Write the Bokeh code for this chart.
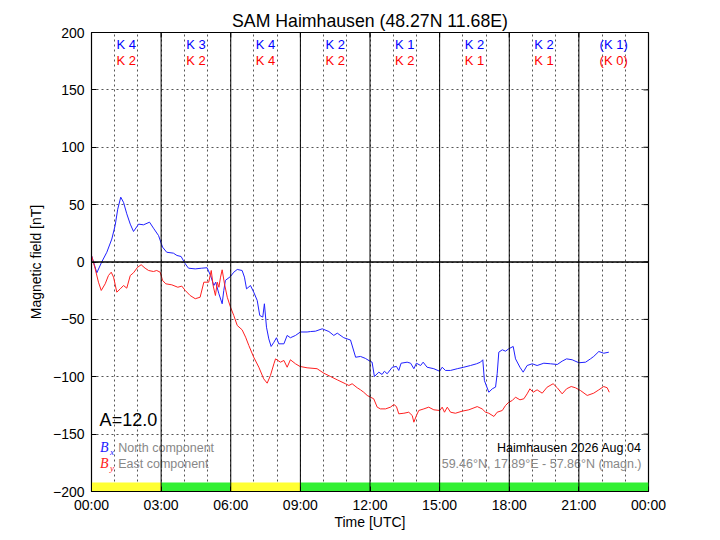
from bokeh.plotting import figure
from bokeh.models import Range1d, FixedTicker, Span
from bokeh.core.properties import value
from bokeh.embed import file_html
from bokeh.resources import INLINE

# ---- data ----
bx_t = [0.0, 0.23, 0.44, 0.66, 0.875, 1.02, 1.13, 1.26, 1.38, 1.52, 1.67, 1.81, 2.03, 2.24, 2.5, 2.67,
        2.89, 3.06, 3.24, 3.53, 3.68, 3.86, 4.04, 4.18, 4.47, 4.75, 4.98, 5.13, 5.27, 5.35, 5.49, 5.63,
        5.7, 5.77, 5.99, 6.13, 6.28, 6.49, 6.59, 6.68, 6.85, 6.99, 7.14, 7.25, 7.38, 7.45, 7.54, 7.64,
        7.74, 7.86, 7.97, 8.07, 8.29, 8.43, 8.57, 8.79, 9.0, 9.29, 9.44, 9.65, 9.94, 10.23, 10.44, 10.59,
        10.87, 11.16, 11.38, 11.59, 11.8, 12.02, 12.09, 12.19, 12.38, 12.52, 12.62, 12.74, 12.96, 13.14,
        13.24, 13.34, 13.6, 13.75, 13.89, 14.0, 14.18, 14.29, 14.46, 14.75, 15.0, 15.11, 15.25, 15.47,
        15.76, 16.04, 16.33, 16.59, 16.76, 16.86, 16.93, 17.12, 17.27, 17.41, 17.48, 17.55, 17.7, 17.84,
        17.98, 18.17, 18.27, 18.46, 18.6, 18.77, 18.99, 19.2, 19.49, 19.78, 20.07, 20.28, 20.47, 20.71,
        21.0, 21.29, 21.5, 21.64, 21.86, 22.07, 22.29]
bx_v = [5.7, -9.4, 0, 8.5, 20, 32, 46, 56.5, 52, 42, 33, 26.6, 33, 32.4, 34.7, 29.5,
        23, 13, 8.5, 7.7, 5.7, 4.8, -1.6, -5.4, -6, -5.4, -5, -11.8, -20.5, -17.6, -27.7, -36.4,
        -24.8, -16, -12.6, -8.9, -6.5, -7.4, -13.2, -23.4, -20.5, -26.3, -33.5, -46.6, -48, -36.4, -56.8, -67,
        -73.6, -69.9, -66, -71.3, -71.3, -64, -66, -64, -61, -61, -60.6, -60.3, -58.2, -60.6, -64, -62,
        -66, -68, -83, -82.3, -84, -86.7, -87.3, -99.8, -96, -98, -95.2, -97.4, -91.7, -91,
        -94.5, -88.2, -87.3, -88.2, -93, -88.2, -90.2, -87.3, -91.7, -93, -95.2, -91.7, -94.5, -94.5,
        -93, -91.7, -90.2, -88.7, -87.3, -85.2, -103.3, -113.5, -110.5, -109, -97.4, -78.6, -76.5, -77.7,
        -75.6, -73.6, -84.4, -91.7, -96, -90.2, -88.7, -90.2, -88.2, -88.7, -89.3, -86.4, -84.4, -85.2,
        -87.8, -87.3, -84.4, -82.3, -78, -79.5, -78.6]

by_t = [0.0, 0.16, 0.3, 0.42, 0.59, 0.73, 0.85, 0.95, 1.09, 1.24, 1.38, 1.52, 1.67, 1.81, 1.99, 2.14,
        2.31, 2.46, 2.67, 2.81, 2.96, 3.06, 3.2, 3.46, 3.72, 3.89, 4.04, 4.25, 4.47, 4.68, 4.84, 5.05,
        5.16, 5.24, 5.34, 5.42, 5.49, 5.56, 5.63, 5.73, 5.85, 5.99, 6.13, 6.28, 6.49, 6.64, 6.78, 6.99,
        7.21, 7.42, 7.57, 7.71, 7.86, 7.93, 8.14, 8.29, 8.43, 8.57, 8.79, 8.98, 9.29, 9.72, 10.01, 10.3,
        10.59, 10.94, 11.09, 11.23, 11.45, 11.59, 11.73, 11.88, 12.02, 12.16, 12.31, 12.45, 12.67, 12.88,
        13.03, 13.14, 13.24, 13.46, 13.67, 13.82, 13.89, 14.0, 14.1, 14.32, 14.53, 14.75, 15.01, 15.11,
        15.21, 15.33, 15.47, 15.68, 15.97, 16.26, 16.62, 16.83, 16.98, 17.12, 17.34, 17.48, 17.7, 17.84,
        17.98, 18.13, 18.27, 18.46, 18.63, 18.77, 18.89, 19.03, 19.2, 19.42, 19.63, 19.89, 20.07, 20.28,
        20.47, 20.67, 20.85, 21.07, 21.36, 21.64, 21.86, 22.07, 22.22, 22.31]
by_v = [5.7, -6, -17.6, -24.8, -19, -11.8, -8.9, -13.2, -26.3, -23.4, -20.5, -22.8, -11.8, -9.4, -4.5, -2.4,
        -5.4, -7.4, -8.3, -7.4, -8.9, -16, -19, -19.9, -22, -21, -24.8, -29.2, -32, -30.7, -17.6, -17.6,
        -7.4, -20.5, -29.2, -17.6, -22, -13.2, -6.8, -19, -30.7, -39.4, -46.6, -55.3, -59.1, -65.5, -72.8, -83,
        -91.7, -101.8, -105.6, -98.9, -88.7, -84.4, -87.3, -85.8, -91.7, -85.2, -88.7, -91, -92.2, -93, -96.9, -99.8,
        -102.7, -106.1, -107.6, -106.1, -109.6, -111.4, -113.5, -116.3, -117.8, -119.2, -126.5, -128, -128, -126.5,
        -124.2, -126, -132.3, -131.8, -130.9, -133.8, -139.6, -133.8, -129.4, -128, -126.5, -128.8, -129.4, -126.5,
        -130.9, -126.5, -130.9, -131.8, -130, -128.8, -126, -128, -130.9, -131.8, -134.6, -130.9, -129.4, -125,
        -122.2, -120.7, -117.8, -120.1, -119.2, -114.9, -110.5, -113.5, -111.4, -114.3, -109.1, -106.1, -109.6, -114.9,
        -110.5, -108.5, -109.6, -112, -116.3, -114.3, -111.4, -108.5, -109.6, -113.5]

k_centers = [1.5, 4.5, 7.5, 10.5, 13.5, 16.5, 19.5, 22.5]
k_north = ["K 4", "K 3", "K 4", "K 2", "K 1", "K 2", "K 2", "(K 1)"]
k_east = ["K 2", "K 2", "K 4", "K 2", "K 2", "K 1", "K 1", "(K 0)"]

band_start = [0, 3, 6, 9]
band_end = [3, 6, 9, 24]
band_level = ["yellow", "green", "yellow", "green"]

x_ticks = [0, 3, 6, 9, 12, 15, 18, 21, 24]
x_tick_labels = ["00:00", "03:00", "06:00", "09:00", "12:00", "15:00", "18:00", "21:00", "00:00"]
y_ticks = [-200, -150, -100, -50, 0, 50, 100, 150, 200]

FONT = "Liberation Sans"
BLUE = "#2020ff"
RED = "#ff2020"

p = figure(width=712, height=532, output_backend="svg", toolbar_location=None,
           x_range=Range1d(0, 24), y_range=Range1d(-200, 200),
           min_border_left=91, min_border_right=64, min_border_top=32, min_border_bottom=41)
p.background_fill_color = "white"
p.border_fill_color = "white"
p.outline_line_color = "black"
p.outline_line_width = 1.2

# title
p.title.text = "SAM Haimhausen (48.27N 11.68E)"
p.title.align = "center"
p.title.text_font = FONT
p.title.text_font_size = "17.7px"
p.title.text_font_style = "normal"
p.title.text_color = "black"
p.title.standoff = 4

# grids
p.xgrid.ticker = FixedTicker(ticks=list(range(0, 25)))
p.ygrid.ticker = FixedTicker(ticks=y_ticks)
for g in (p.xgrid, p.ygrid):
    g.grid_line_color = "#555555"
    g.grid_line_dash = "2 3"
    g.grid_line_width = 1

# axes
p.xaxis.ticker = FixedTicker(ticks=x_ticks)
p.xaxis.major_label_overrides = {t: l for t, l in zip(x_ticks, x_tick_labels)}
p.yaxis.ticker = FixedTicker(ticks=y_ticks)
p.yaxis.major_label_overrides = {t: ("\u2212" + str(-t) if t < 0 else str(t)) for t in y_ticks}
p.xaxis.axis_label = "Time [UTC]"
p.yaxis.axis_label = "Magnetic field [nT]"
for ax in (p.xaxis[0], p.yaxis[0]):
    ax.major_tick_in = 5
    ax.major_tick_out = 0
    ax.minor_tick_in = 0
    ax.minor_tick_out = 0
    ax.major_label_text_font = FONT
    ax.major_label_text_font_size = "14px"
    ax.major_label_text_color = "black"
    ax.axis_label_text_font = FONT
    ax.axis_label_text_font_size = "14px"
    ax.axis_label_text_font_style = "normal"
    ax.axis_label_text_color = "black"
    ax.axis_line_color = "black"
p.xaxis.major_label_standoff = 5
p.xaxis.axis_label_standoff = -2
p.yaxis.major_label_standoff = 7
p.yaxis.axis_label_standoff = 6

# inward ticks on top and right frame edges
tick_dx = 5 / 23.2
tick_dy = 5 / 1.1475
p.segment(x0=x_ticks, x1=x_ticks, y0=[200] * len(x_ticks), y1=[200 - tick_dy] * len(x_ticks),
          line_color="black", line_width=1)
p.segment(x0=[24] * len(y_ticks), x1=[24 - tick_dx] * len(y_ticks), y0=y_ticks, y1=y_ticks,
          line_color="black", line_width=1)

# solid 3-hour lines and zero line
for t in x_ticks[1:-1]:
    p.add_layout(Span(location=t, dimension="height", line_color="black", line_width=1))
p.add_layout(Span(location=0, dimension="width", line_color="black", line_width=1.3))

# activity band
band_colors = {"yellow": "#ffff33", "green": "#33f033"}
p.quad(left=band_start, right=band_end, bottom=-200, top=-192.2,
       fill_color=[band_colors[b] for b in band_level], line_color=None)

# curves
p.line(bx_t, bx_v, line_color=BLUE, line_width=1)
p.line(by_t, by_v, line_color=RED, line_width=1)

# K indices
p.text(x=k_centers, y=[189.5] * len(k_centers), text=k_north, text_color="blue",
       text_font=value(FONT), text_font_size="13px", text_align="center", text_baseline="middle")
p.text(x=k_centers, y=[175.6] * len(k_centers), text=k_east, text_color="red",
       text_font=value(FONT), text_font_size="13px", text_align="center", text_baseline="middle")

# A index
p.text(x=[0.35], y=[-137.5], text=["A=12.0"], text_color="black", text_font=value(FONT),
       text_font_size="18px", text_align="left", text_baseline="middle")

# legend
p.text(x=[0.37], y=[-161.7], text=["B"], text_color=BLUE, text_font=value("Liberation Serif"),
       text_font_style="italic", text_font_size="14px", text_align="left", text_baseline="middle")
p.text(x=[0.8], y=[-165.5], text=["x"], text_color=BLUE, text_font=value("Liberation Serif"),
       text_font_style="italic", text_font_size="9px", text_align="left", text_baseline="middle")
p.text(x=[0.37], y=[-175.6], text=["B"], text_color=RED, text_font=value("Liberation Serif"),
       text_font_style="italic", text_font_size="14px", text_align="left", text_baseline="middle")
p.text(x=[0.8], y=[-179.4], text=["y"], text_color=RED, text_font=value("Liberation Serif"),
       text_font_style="italic", text_font_size="9px", text_align="left", text_baseline="middle")
p.text(x=[1.15, 1.15], y=[-161.7, -175.6], text=["North component", "East component"],
       text_color="#888888", text_font=value(FONT), text_font_size="12.5px",
       text_align="left", text_baseline="middle")

# station info
p.text(x=[23.7], y=[-161.7], text=["Haimhausen 2026 Aug 04"], text_color="black",
       text_font=value(FONT), text_font_size="12.5px", text_align="right", text_baseline="middle")
p.text(x=[23.7], y=[-175.6], text=["59.46\u00b0N, 17.89\u00b0E - 57.86\u00b0N (magn.)"],
       text_color="#888888", text_font=value(FONT), text_font_size="12.5px",
       text_align="right", text_baseline="middle")

open("out.html", "w").write(file_html(p, INLINE))
